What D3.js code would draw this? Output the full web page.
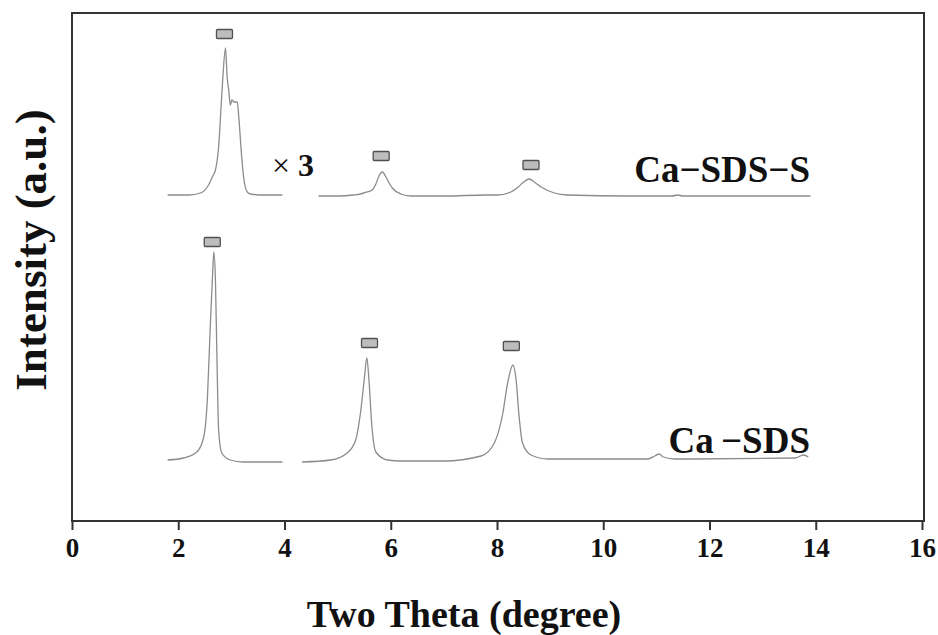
<!DOCTYPE html>
<html>
<head>
<meta charset="utf-8">
<script src="https://cdn.jsdelivr.net/npm/d3@7"></script>
<style>
  html, body { margin: 0; padding: 0; background: #fff; }
  svg { display: block; }
  text { font-family: "Liberation Serif", "Times New Roman", serif; font-weight: bold; fill: #111; }
</style>
</head>
<body>
<svg id="chart" width="938" height="635"></svg>
<script>
// x ticks (two theta, degree)
const xTicks = [0, 2, 4, 6, 8, 10, 12, 14, 16];

// Ca-SDS-S (upper trace, x3 after the break)
const sdsSLow = [
    [1.80, 326], [2.00, 326], [2.20, 326], [2.42, 328], [2.57, 336], [2.65, 345], [2.70, 351],
    [2.76, 374], [2.81, 418], [2.84, 444], [2.89, 473], [2.92, 444], [2.95, 431], [2.98, 416],
    [3.01, 421], [3.05, 419], [3.11, 419], [3.14, 404], [3.18, 374], [3.23, 344], [3.30, 329],
    [3.36, 327], [3.60, 326], [3.96, 326]
];
const sdsSHigh = [
    [4.64, 325], [5.00, 325], [5.30, 326], [5.43, 327], [5.55, 329], [5.65, 331], [5.72, 337],
    [5.77, 344], [5.84, 349], [5.91, 344], [5.97, 338], [6.03, 333], [6.19, 327], [6.38, 325],
    [7.00, 325], [7.80, 326], [8.01, 326], [8.26, 329], [8.40, 334], [8.48, 338], [8.61, 342],
    [8.70, 339], [8.83, 334], [9.08, 328], [9.33, 326], [10.5, 325], [11.3, 325], [11.4, 326],
    [11.5, 325], [12.5, 325], [13.9, 325]
];

// Ca-SDS (lower trace)
const sdsLow = [
    [1.80, 61], [2.10, 63], [2.35, 69], [2.48, 84], [2.55, 124], [2.60, 191], [2.65, 251],
    [2.67, 269], [2.70, 241], [2.73, 158], [2.76, 91], [2.82, 68], [2.98, 61], [3.23, 59],
    [3.96, 59]
];
const sdsHigh = [
    [4.33, 59], [4.87, 61], [5.18, 68], [5.34, 81], [5.43, 108], [5.50, 141], [5.55, 163],
    [5.59, 141], [5.64, 98], [5.72, 69], [5.94, 61], [6.19, 60], [7.00, 60], [7.70, 65],
    [7.95, 78], [8.11, 108], [8.20, 138], [8.30, 156], [8.36, 141], [8.41, 108], [8.48, 78],
    [8.64, 66], [8.96, 62], [10.84, 62], [10.97, 65], [11.05, 67], [11.13, 64], [11.35, 62],
    [13.61, 63], [13.77, 66], [13.86, 64]
];

// peak markers (x, intensity)
const peakMarks = [
    [2.87, 487], [5.82, 365], [8.64, 356],
    [2.64, 279], [5.60, 178], [8.27, 175]
];

const svg = d3.select("#chart");
const padLeft = 72, padRight = 922, padTop = 13, padBottom = 521;

const x = d3.scaleLinear().domain([0, 16]).range([padLeft, padRight]);
const y = d3.scaleLinear().domain([0, 508]).range([padBottom, padTop]);

// frame
svg.append("rect")
    .attr("x", padLeft).attr("y", padTop)
    .attr("width", 924 - padLeft).attr("height", padBottom - padTop)
    .attr("fill", "none")
    .attr("stroke", "#333")
    .attr("stroke-width", 2);

// bottom axis
const xAxis = svg.append("g")
    .attr("transform", `translate(0,${padBottom})`)
    .call(d3.axisBottom(x).tickValues(xTicks).tickSize(9).tickPadding(8).tickFormat(d3.format("d")));
xAxis.select(".domain").remove();
xAxis.selectAll(".tick line").attr("stroke", "#333").attr("stroke-width", 2);
xAxis.selectAll(".tick text")
    .attr("font-family", "Liberation Serif, serif")
    .attr("font-weight", "bold")
    .attr("font-size", 27)
    .attr("fill", "#111");

// curves
const line = d3.line()
    .x(d => x(d[0]))
    .y(d => y(d[1]))
    .curve(d3.curveMonotoneX);

[sdsSLow, sdsSHigh, sdsLow, sdsHigh].forEach(seg => {
    svg.append("path")
        .datum(seg)
        .attr("d", line)
        .attr("fill", "none")
        .attr("stroke", "#8c8c8c")
        .attr("stroke-width", 1.3);
});

// markers
svg.append("g")
    .selectAll("rect")
    .data(peakMarks)
    .enter().append("rect")
    .attr("x", d => x(d[0]) - 8)
    .attr("y", d => y(d[1]) - 4.5)
    .attr("width", 16)
    .attr("height", 9)
    .attr("rx", 1)
    .attr("fill", "#bdbdbd")
    .attr("stroke", "#505050")
    .attr("stroke-width", 1.3);

// labels
svg.append("text")
    .attr("x", 810).attr("y", 182)
    .attr("text-anchor", "end")
    .attr("font-size", 37)
    .text("Ca\u2212SDS\u2212S");

svg.append("text")
    .attr("x", 810).attr("y", 453)
    .attr("text-anchor", "end")
    .attr("font-size", 37)
    .text("Ca\u2009\u2212SDS");

const times = svg.append("text")
    .attr("x", 272).attr("y", 176)
    .attr("font-size", 32);
times.append("tspan").attr("font-weight", "normal").text("\u00d7 ");
times.append("tspan").attr("font-weight", "bold").text("3");

// axis titles
svg.append("text")
    .attr("x", 464).attr("y", 627)
    .attr("text-anchor", "middle")
    .attr("font-size", 38)
    .text("Two Theta (degree)");

svg.append("text")
    .attr("transform", "translate(46,250) rotate(-90)")
    .attr("text-anchor", "middle")
    .attr("font-size", 45)
    .text("Intensity (a.u.)");
</script>
</body>
</html>
